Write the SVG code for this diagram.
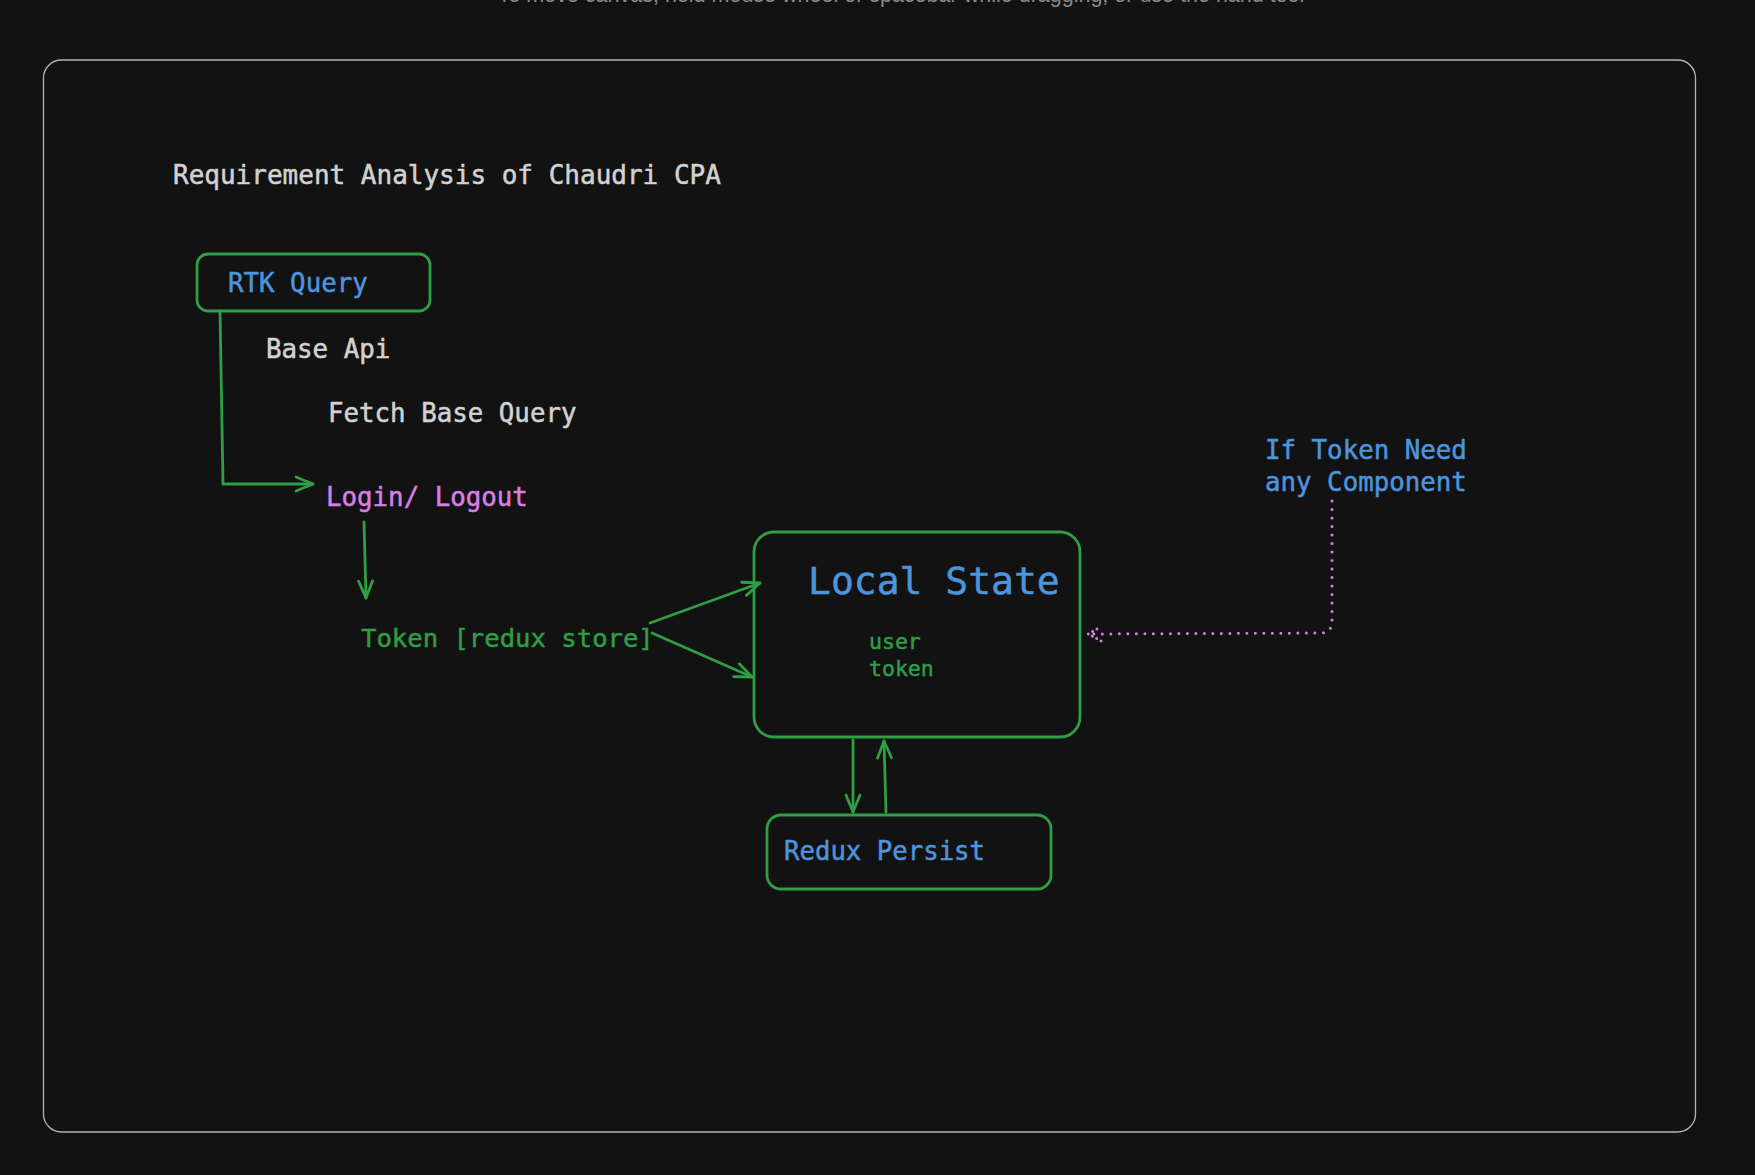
<svg xmlns="http://www.w3.org/2000/svg" width="1755" height="1175" viewBox="0 0 1755 1175">
<style>
.mono{font-family:"DejaVu Sans Mono","Liberation Mono",monospace;stroke-width:0.5;}
.grey{fill:#d2d2d2;stroke:#d2d2d2;}
.blue{fill:#4c95dd;stroke:#4c95dd;}
.green{fill:#2f9e44;stroke:#2f9e44;}
.pink{fill:#d77fe4;stroke:#d77fe4;}
.box{fill:none;stroke:#2f9e44;stroke-width:2.8;}
.conn{fill:none;stroke:#2f9e44;stroke-width:2.8;stroke-linecap:round;stroke-linejoin:round;}
.dot{fill:none;stroke:#d77fe4;stroke-width:3;stroke-linecap:round;stroke-dasharray:0 8.5;}
</style>
<defs>
<marker id="ah" viewBox="-22 -12 26 24" refX="0" refY="0" markerWidth="26" markerHeight="24" markerUnits="userSpaceOnUse" orient="auto">
<path d="M-17,-7 L0,0 L-17,7" fill="none" stroke="#2f9e44" stroke-width="2.8" stroke-linecap="round" stroke-linejoin="round"/>
</marker>
<marker id="ahp" viewBox="-22 -12 26 24" refX="0" refY="0" markerWidth="26" markerHeight="24" markerUnits="userSpaceOnUse" orient="auto">
<path d="M-13,-7 L0,0 L-13,7" fill="none" stroke="#d77fe4" stroke-width="3" stroke-linecap="round" stroke-dasharray="0 5"/>
</marker>
</defs>
<rect x="0" y="0" width="1755" height="1175" fill="#121212"/>
<text x="901" y="2" font-family="'Liberation Sans',Arial,sans-serif" font-size="21.5" fill="#8a8a8a" text-anchor="middle">To move canvas, hold mouse wheel or spacebar while dragging, or use the hand tool</text>
<rect x="43.5" y="60" width="1652" height="1072" rx="18" fill="none" stroke="#b4b4b4" stroke-width="1.3"/>

<g id="title"><text class="mono grey" x="173" y="184" font-size="26">Requirement Analysis of Chaudri CPA</text></g>

<g id="rtk-query">
<rect class="box" x="197" y="254" width="233" height="57" rx="11"/>
<text class="mono blue" x="228" y="292" font-size="25.8">RTK Query</text>
</g>
<g id="base-api"><text class="mono grey" x="266" y="358" font-size="25.8">Base Api</text></g>
<g id="fetch-base-query"><text class="mono grey" x="328" y="422" font-size="25.8">Fetch Base Query</text></g>
<g id="login-logout"><text class="mono pink" x="326" y="506" font-size="25.8">Login/ Logout</text></g>
<g id="token"><text class="mono green" x="361" y="647" font-size="25.6">Token [redux store]</text></g>

<g id="local-state">
<rect class="box" x="754" y="532" width="326" height="205" rx="20"/>
<text class="mono blue" x="808" y="594" font-size="38">Local State</text>
<text class="mono green" x="869" y="649" font-size="21.5">user</text>
<text class="mono green" x="869" y="676" font-size="21.5">token</text>
</g>

<g id="redux-persist">
<rect class="box" x="767" y="815" width="284" height="74" rx="14"/>
<text class="mono blue" x="784" y="860" font-size="25.7">Redux Persist</text>
</g>

<g id="if-token-need">
<text class="mono blue" x="1265" y="459" font-size="25.8">If Token Need</text>
<text class="mono blue" x="1265" y="491" font-size="25.8">any Component</text>
</g>

<g id="connectors">
<path class="conn" d="M220,311 L223,484 L313,484" marker-end="url(#ah)"/>
<path class="conn" d="M364,522 L366,598" marker-end="url(#ah)"/>
<path class="conn" d="M650,623 L760,583" marker-end="url(#ah)"/>
<path class="conn" d="M652,633 L752,677" marker-end="url(#ah)"/>
<path class="conn" d="M853,740 L853,812" marker-end="url(#ah)"/>
<path class="conn" d="M886,812 L884,741" marker-end="url(#ah)"/>
<path class="dot" d="M1332,501 L1332,621 Q1332,633 1320,633 L1088,634" marker-end="url(#ahp)"/>
</g>
</svg>
